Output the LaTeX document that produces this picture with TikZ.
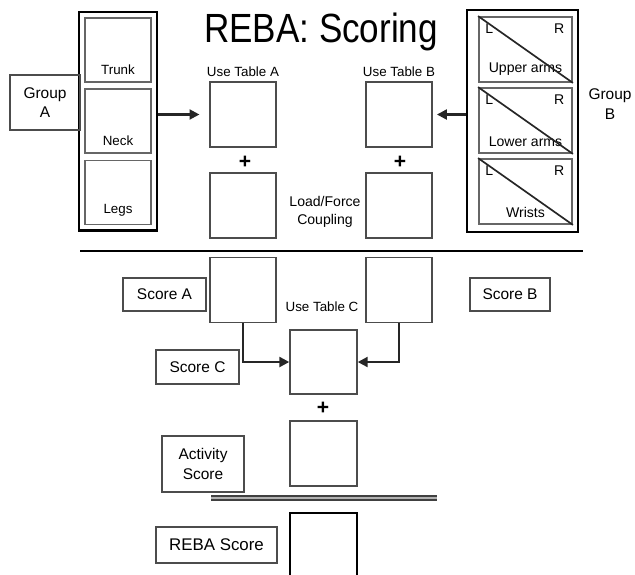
\documentclass[tikz,border=0pt]{standalone}
\usepackage{fontspec}
\setmainfont{Liberation Sans}
\usetikzlibrary{arrows.meta,positioning,fit}
\tikzset{
    flow/.style  = {-{Triangle[length=7pt,width=7pt]}, line width=1.6pt, draw=black!85},
    tbox/.style  = {rectangle, draw=black!70, line width=1pt, fill=white,
                    minimum width=1.65cm, minimum height=1.625cm, inner sep=0pt},
    part/.style  = {rectangle, draw=black!60, line width=1.3pt,
                    minimum width=1.65cm, minimum height=1.6cm, inner sep=0pt},
    armpart/.style = {part, minimum width=2.325cm, minimum height=1.625cm},
    lblbox/.style  = {rectangle, draw=black!70, line width=1pt, align=center,
                      inner sep=0pt, font=\fontsize{11}{14}\selectfont}
}

\begin{document}
\begin{tikzpicture}[
        x=0.025cm, y=-0.025cm,
        small/.style={font=\fontsize{9.5}{12}\selectfont, inner sep=0pt},
        plus/.style={font=\fontsize{15}{15}\selectfont\bfseries, inner sep=0pt},
        group/.style={rectangle, draw=black, line width=1.8pt, inner sep=0pt}
    ]
    \useasboundingbox (0,0) rectangle (635,574);

    % --- Title ---
    \node[font=\fontsize{29}{30}\selectfont, inner sep=0pt] (title) at (321,32) {\scalebox{0.86}[1]{REBA: Scoring}};

    % --- Group A ---
    \node[part] (trunk) at (118,50) {};
    \node[part] (neck) at (118,121) {};
    \node[part] (legs) at (118,192.5) {};
    \node[small, above=6pt of trunk.south] {Trunk};
    \node[small, above=6pt of neck.south] {Neck};
    \node[small, above=6pt of legs.south] {Legs};
    \node[group, fit=(trunk) (neck) (legs), inner sep=3.5pt] (grpA) {};
    \node[lblbox, minimum width=1.75cm, minimum height=1.375cm] (grpAlbl) at (45,102.5) {Group\\A};

    % --- Group B ---
    \node[group, minimum width=2.775cm, minimum height=5.55cm] (grpB) at (522.5,121) {};
    \foreach \nm/\yy/\txt in {uarm/49.5/Upper arms, larm/120.5/Lower arms, wrist/191.5/Wrists} {
        \node[armpart] (\nm) at (525.5,\yy) {};
        \node[small, font=\fontsize{10}{12}\selectfont, above=5pt of \nm.south] {\txt};
        \node[small, font=\fontsize{10}{12}\selectfont, below right=5pt and 5pt of \nm.north west] {L};
        \node[small, font=\fontsize{10}{12}\selectfont, below left=5pt and 6pt of \nm.north east] {R};
        \draw[line width=1.2pt, black!85] (\nm.north west) -- (\nm.south east);
    }
    \node[font=\fontsize{11}{14}\selectfont, align=center, inner sep=0pt] (grpBlbl) at (610,104) {Group\\B};

    % --- Tables A and B ---
    \node[tbox] (tabA) at (243,114.5) {};
    \node[tbox] (loadA) at (243,205.5) {};
    \node[small] (useA) at (243,72) {Use Table A};
    \node[plus] (plusA) at (245,162) {+};

    \node[tbox] (tabB) at (399,114.5) {};
    \node[tbox] (loadB) at (399,205.5) {};
    \node[small] (useB) at (399,72) {Use Table B};
    \node[plus] (plusB) at (400,162) {+};

    \node[font=\fontsize{10}{13}\selectfont, align=center, inner sep=0pt] (load) at (325,212) {Load/Force\\Coupling};

    \draw[flow, shorten >=7pt] (grpA.east |- tabA.west) -- (tabA.west);
    \draw[flow, shorten >=3pt] (grpB.west |- tabB.east) -- (tabB.east);

    \draw[line width=1.8pt] (80,251) -- (583,251);

    % --- Scores A, B and C ---
    \node[tbox] (scA) at (243,290) {};
    \node[tbox] (scB) at (399,290) {};
    \node[lblbox, minimum width=2.075cm, minimum height=0.825cm] (scAlbl) at (164.5,294.5) {Score A};
    \node[lblbox, minimum width=2cm, minimum height=0.825cm] (scBlbl) at (510,294.5) {Score B};

    \node[small] (useC) at (322,307) {Use Table C};
    \node[tbox, minimum width=1.675cm, minimum height=1.6cm] (tabC) at (323.5,362) {};
    \node[lblbox, minimum width=2.075cm, minimum height=0.85cm] (scClbl) at (197.5,367) {Score C};

    \draw[flow] (scA.south) |- (tabC.west);
    \draw[flow] (scB.south) |- (tabC.east);

    % --- Activity and final score ---
    \node[plus] (plusC) at (323,408) {+};
    \node[tbox, minimum width=1.675cm] (act) at (323.5,453.5) {};
    \node[lblbox, minimum width=2.05cm, minimum height=1.4cm] (actlbl) at (203,464) {Activity\\Score};

    \draw[line width=1.5pt, draw=black!75, double=gray!60, double distance=1.2pt] (211,498) -- (437,498);

    \node[tbox, draw=black, line width=1.8pt, minimum width=1.675cm, minimum height=2.35cm] (reba) at (323.5,560) {};
    \node[lblbox, minimum width=3.025cm, minimum height=0.9cm, font=\fontsize{12}{14}\selectfont] (rebalbl) at (216.5,545) {REBA Score};
\end{tikzpicture}
\end{document}
